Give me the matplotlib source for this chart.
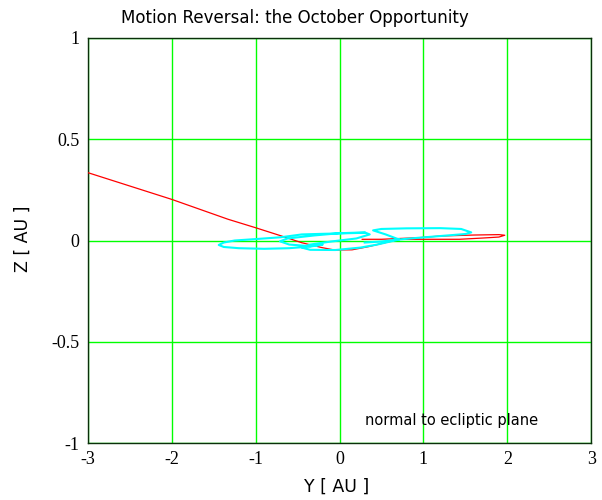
import matplotlib
matplotlib.use("Agg")
import matplotlib.pyplot as plt

# red trajectory (Y, Z) in AU
red_y = [-3.0, -2.5, -2.0, -1.33, -1.0, -0.69, -0.45, -0.21, -0.06, 0.15, 0.35,
         0.54, 0.72, 1.0, 1.43, 1.7, 1.9, 1.97, 1.9, 1.6, 1.2, 0.95, 0.72, 0.5, 0.27]
red_z = [0.335, 0.269, 0.203, 0.105, 0.063, 0.022, -0.011, -0.035, -0.047, -0.046, -0.03,
         -0.011, 0.006, 0.006, 0.006, 0.012, 0.017, 0.026, 0.029, 0.027, 0.022, 0.014, 0.01, 0.006, 0.006]

# cyan trajectory (Y, Z) in AU
cyan_y = [0.3, 0.1, -0.2, -0.45, -0.7, -1.0, -1.25, -1.38, -1.44, -1.38, -1.2, -0.9,
          -0.6, -0.35, -0.2, -0.35, -0.6, -0.71, -0.62, -0.3, 0.0, 0.3, 0.36, 0.2,
          -0.1, -0.35, -0.45, -0.35, -0.05, 0.25, 0.45, 0.71, 0.55, 0.4, 0.5, 0.8,
          1.2, 1.45, 1.57, 1.5, 1.2, 0.9, 0.71, 0.5, 0.3]
cyan_z = [0.038, 0.036, 0.033, 0.03, 0.016, 0.007, 0.0, -0.01, -0.022, -0.032, -0.038, -0.041,
          -0.038, -0.03, -0.02, -0.028, -0.02, -0.004, 0.01, 0.025, 0.036, 0.04, 0.03, 0.01,
          -0.005, -0.02, -0.035, -0.046, -0.047, -0.035, -0.02, 0.005, 0.03, 0.05, 0.057, 0.06,
          0.061, 0.057, 0.04, 0.032, 0.022, 0.012, 0.005, -0.005, -0.01]

x_ticks = [-3, -2, -1, 0, 1, 2, 3]
y_ticks = [-1, -0.5, 0, 0.5, 1]
x_tick_labels = ["-3", "-2", "-1", "0", "1", "2", "3"]
y_tick_labels = ["-1", "-0.5", "0", "0.5", "1"]

fig = plt.figure(figsize=(6.02, 5.0), dpi=100)
ax = fig.add_axes([0.146, 0.114, 0.836, 0.81])

ax.plot(red_y, red_z, color="#ff0000", linewidth=0.9, zorder=3)
ax.plot(cyan_y, cyan_z, color="#00ffff", linewidth=1.5, zorder=4)

ax.set_xlim(-3, 3)
ax.set_ylim(-1, 1)
ax.set_xticks(x_ticks)
ax.set_xticklabels(x_tick_labels, family="Liberation Serif", fontsize=13)
ax.set_yticks(y_ticks)
ax.set_yticklabels(y_tick_labels, family="Liberation Serif", fontsize=13)
ax.tick_params(axis="x", length=0, pad=6)
ax.tick_params(axis="y", length=0, pad=6)
ax.grid(True, color="#00ff00", linewidth=1.0)
ax.set_axisbelow(True)
for s in ax.spines.values():
    s.set_color("#0a300a")
    s.set_linewidth(1.0)

fig.text(0.489, 0.964, "Motion Reversal: the October Opportunity", fontsize=12,
         ha="center", va="center")
fig.text(337 / 602, 1 - 487 / 500, "Y [ AU ]", fontsize=12.5, ha="center", va="center")
fig.text(23 / 602, 1 - 239 / 500, "Z [ AU ]", fontsize=12.5, rotation=90,
         ha="center", va="center")
ax.text(0.3, -0.89, "normal to ecliptic plane", fontsize=10.5, va="center", ha="left")

fig.savefig("out.png", dpi=100)
